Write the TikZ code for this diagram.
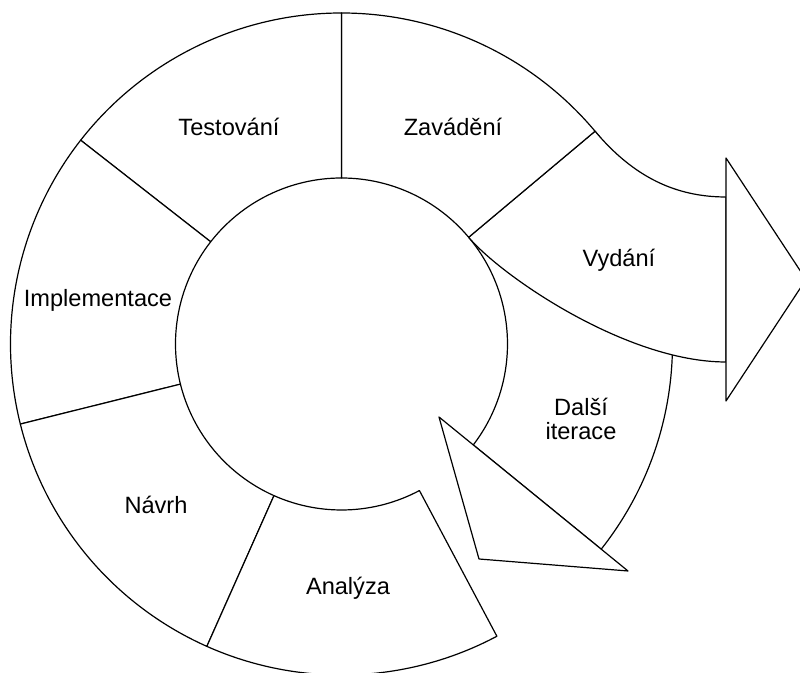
\documentclass[tikz,border=0pt]{standalone}
\usepackage{fontspec}
\setmainfont{Liberation Sans}
\begin{document}
\begin{tikzpicture}[
    x=0.5pt, y=0.5pt,
    sector/.style={draw, fill=white, line width=0.6pt, line join=round},
    phase/.style={font=\fontsize{11.8}{11.6}\selectfont, align=center}
]
\useasboundingbox (-341.5,-329) rectangle (458.5,344);

% Dalsi iterace: band running back, with its head
\draw[sector] (40:166) arc (40:-37.44:166) -- (-38.31:331) arc (-38.31:40:331) -- cycle;
\draw[sector] (97.5,-73) -- (137.5,-215) -- (286.5,-227) -- cycle;

% Vydani: band leaving the spiral
\draw[sector] (40:166) -- (40:331) .. controls (292.2,166.8) and (334.5,147) .. (384.5,147)
    -- (384.5,-18) .. controls (284.5,-18) and (159.3,68.4) .. (40:166) -- cycle;
\draw[sector] (384.5,186) -- (464.5,64.5) -- (384.5,-57) -- cycle;

% Phases of the spiral
\draw[sector] (40:166) -- (40:331) arc (40:90:331) -- (90:166) arc (90:40:166) -- cycle;
\draw[sector] (90:166) -- (90:331) arc (90:142:331) -- (142:166) arc (142:90:166) -- cycle;
\draw[sector] (142:166) -- (142:331) arc (142:194:331) -- (194:166) arc (194:142:166) -- cycle;
\draw[sector] (194:166) -- (194:331) arc (194:246:331) -- (246:166) arc (246:194:166) -- cycle;
\draw[sector] (246:166) -- (246:331) arc (246:298:331) -- (298:166) arc (298:246:166) -- cycle;

% Labels
\node[phase] (zavadeni) at (111.5,217) {Zavádění};
\node[phase] (testovani) at (-112.5,217) {Testování};
\node[phase] (implementace) at (-243.5,44) {Implementace};
\node[phase] (navrh) at (-185.5,-161) {Návrh};
\node[phase] (analyza) at (6.5,-244) {Analýza};
\node[phase] (vydani) at (277.5,84) {Vydání};
\node[phase] (iterace) at (239.5,-75) {Další\\iterace};

\end{tikzpicture}
\end{document}
